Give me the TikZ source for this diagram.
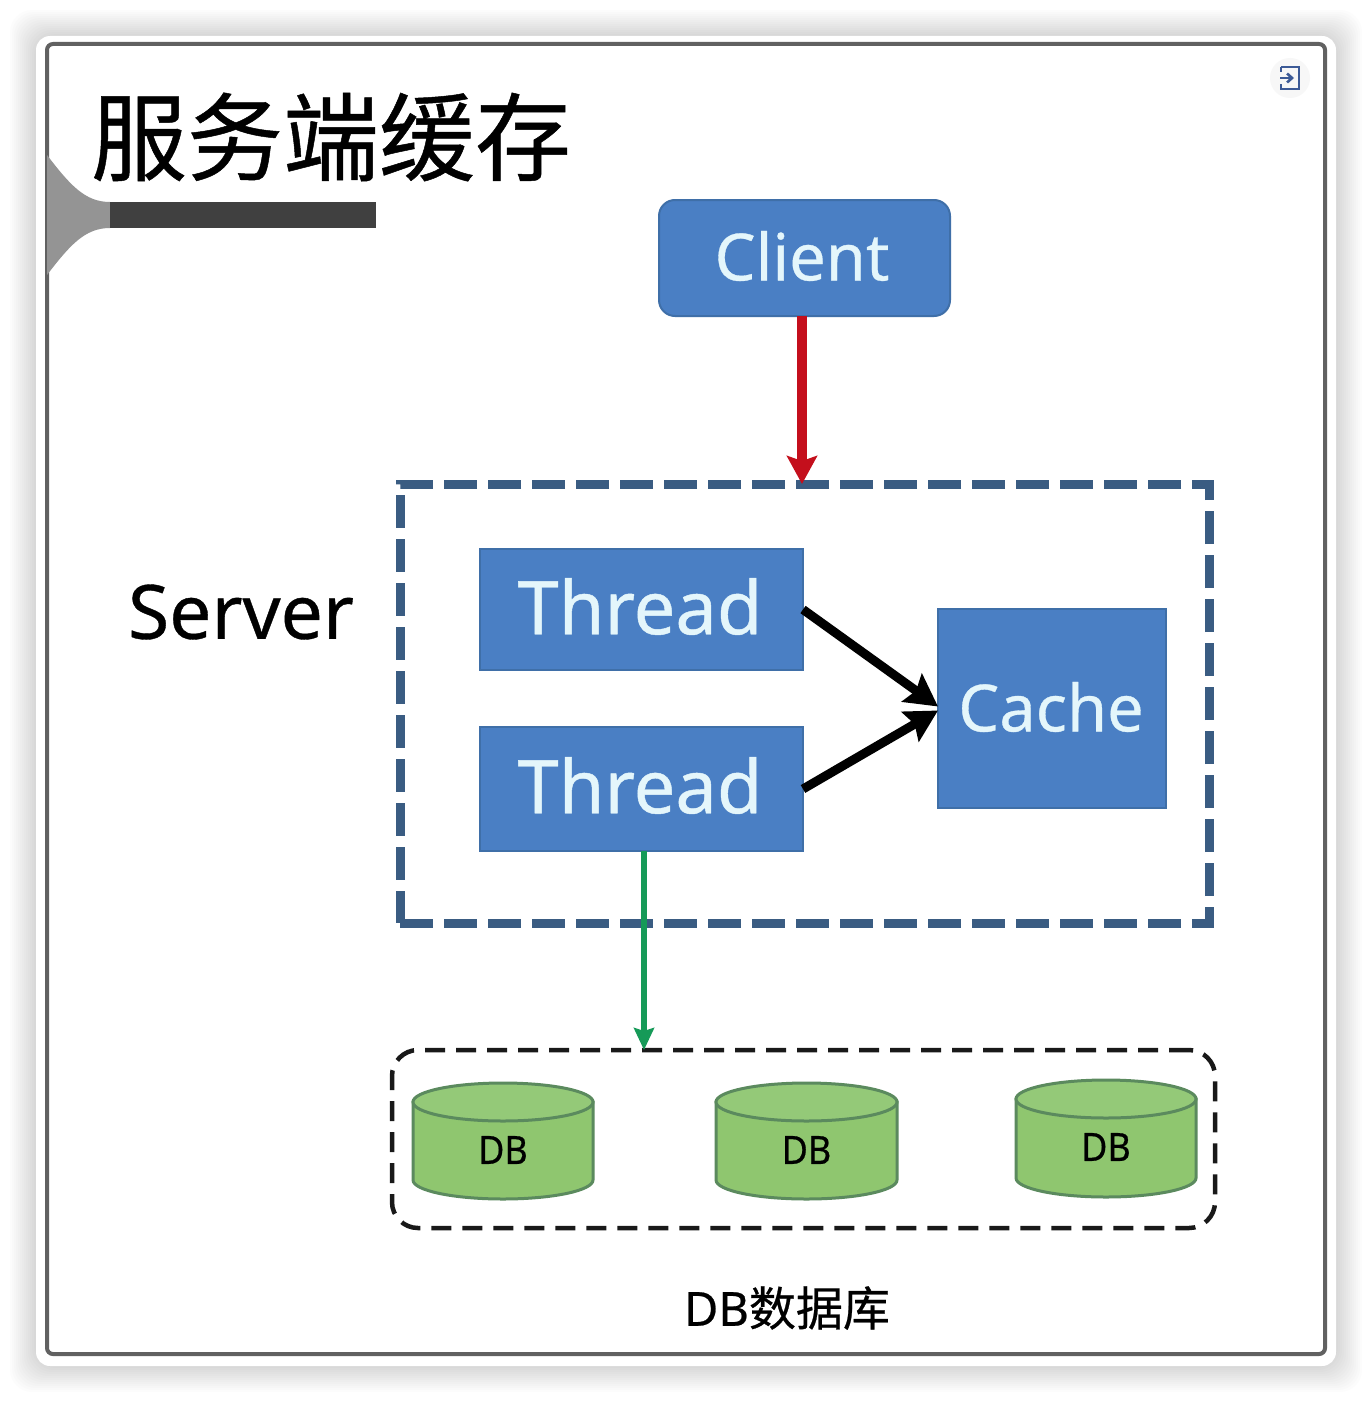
\documentclass[tikz,border=0pt]{standalone}
\usepackage{fontspec}
\setmainfont[FakeBold=0.5]{Noto Sans}
\newfontfamily\heavy[FakeBold=0.6]{Noto Sans}
\newfontfamily\cjk[FakeBold=0.5]{Noto Sans CJK SC}
\usetikzlibrary{arrows.meta,calc}
\definecolor{boxblue}{HTML}{4A7FC4}
\definecolor{boxedge}{HTML}{3F6FA8}
\definecolor{boxtext}{HTML}{E4F6FB}
\definecolor{dashblue}{HTML}{3A5C82}
\definecolor{dbgreen}{HTML}{8FC66F}
\definecolor{dbtop}{HTML}{94C978}
\definecolor{dbedge}{HTML}{5B8A5E}
\definecolor{arrowred}{HTML}{C40F1C}
\definecolor{arrowgreen}{HTML}{169A58}
\definecolor{iconblue}{HTML}{3C5A96}
\tikzset{
  x=1pt,y=-1pt,
  bluebox/.style={draw=boxedge,fill=boxblue,line width=2pt,text=boxtext,inner sep=0pt,outer sep=0pt},
  plainlabel/.style={inner sep=0pt,outer sep=0pt,text=black},
  serverbox/.style={draw=dashblue,line width=9pt,dash pattern=on 33pt off 11pt,inner sep=0pt,outer sep=0pt},
  dbbox/.style={draw=black!90,line width=4.5pt,dash pattern=on 20pt off 11pt,rounded corners=26pt,inner sep=0pt,outer sep=0pt},
  redarrow/.style={draw=arrowred,line width=10pt,-{Stealth[length=28pt,width=30pt,inset=5pt]}},
  blackarrow/.style={draw=black,line width=9pt,-{Stealth[length=32pt,width=34pt,inset=5pt]}},
  greenarrow/.style={draw=arrowgreen,line width=6pt,-{Stealth[length=22pt,width=20pt,inset=3pt]}},
  cyl/.style={fill=dbgreen,draw=dbedge,line width=3pt},
  cyltop/.style={fill=dbtop,draw=dbedge,line width=3pt},
}
\newcommand{\dbcylinder}[5]{%
  \path[cyl] (#1,{#3+19}) -- (#1,{#4-19})
     arc[start angle=180,end angle=360,x radius={(#2-#1)/2},y radius=-19]
     -- (#2,{#3+19}) -- cycle;
  \path[cyltop] ({(#1+#2)/2},{#3+19}) ellipse[x radius={(#2-#1)/2},y radius=19];
  \node[plainlabel,font=\fontsize{39}{39}\selectfont,xscale=.92] (#5) at ({(#1+#2)/2},{#3+67}) {DB};
}
\begin{document}
\begin{tikzpicture}
\useasboundingbox (0,0) rectangle (1372,1402);
\fill[white] (0,0) rectangle (1372,1402);
\foreach \s in {0,2,...,26}{
  \fill[black,opacity=.012,rounded corners=22pt] ({36-\s},{36-\s}) rectangle ({1336+\s},{1366+\s});
}
\fill[white,rounded corners=14pt] (36,36) rectangle (1336,1366);
\draw[draw=black!62,line width=4pt,rounded corners=6pt] (47,44) rectangle (1325,1354);
\fill[black!42] (47,155) .. controls (70,185) and (85,202) .. (110,202) -- (110,228)
   .. controls (85,228) and (70,245) .. (47,275) -- cycle;
\fill[black!75] (110,202) rectangle (376,228);
\node[plainlabel,font=\cjk\fontsize{96}{96}\selectfont] (title) at (331,137) {服务端缓存};
\fill[black!3] (1290,78) circle[radius=20];
\draw[iconblue,line width=2.6pt] (1281,67) -- (1299,67) -- (1299,89) -- (1281,89) -- (1281,84);
\draw[iconblue,line width=2.6pt] (1281,67) -- (1281,72);
\draw[iconblue,line width=2.6pt,-{Straight Barb[length=5pt,width=9pt]}] (1280,78) -- (1294,78);
\node[bluebox,rounded corners=16pt,minimum width=291pt,minimum height=116pt,text depth=0pt] (client) at (804.5,258) {};
\node[plainlabel,text=boxtext,font=\fontsize{65}{65}\selectfont] (clienttext) at (802,256) {Client};
\node[plainlabel,font=\fontsize{75}{75}\selectfont] (server) at (241,612) {Server};
\node[serverbox,minimum width=809pt,minimum height=439pt] (serverbox) at (804.5,703.5) {};
\node[bluebox,minimum width=323pt,minimum height=121pt] (t1) at (641.5,609.5) {};
\node[plainlabel,text=boxtext,font=\heavy\fontsize{74}{74}\selectfont] (t1text) at (640,606.5) {Thread};
\node[bluebox,minimum width=323pt,minimum height=124pt] (t2) at (641.5,789) {};
\node[plainlabel,text=boxtext,font=\heavy\fontsize{74}{74}\selectfont] (t2text) at (640,785.5) {Thread};
\node[bluebox,minimum width=228pt,minimum height=199pt] (cache) at (1052,708.5) {};
\node[plainlabel,text=boxtext,font=\fontsize{65}{65}\selectfont] (cachetext) at (1051,707) {Cache};
\node[dbbox,minimum width=823pt,minimum height=178pt] (dbbox) at (803.5,1139) {};
\dbcylinder{413}{593}{1083}{1199}{dba}
\dbcylinder{716}{897}{1083}{1199}{dbb}
\dbcylinder{1016}{1196}{1080}{1197}{dbc}
\node[plainlabel,font=\fontsize{47}{47}\selectfont] (dblabel) at (787,1308) {DB{\cjk 数据库}};
\draw[redarrow] (client.south) ++(-2.5,0) -- (serverbox.north -| 802,0);
\draw[blackarrow] (t1.east) -- ($(cache.west)+(0,-2)$);
\draw[blackarrow] (t2.east) -- ($(cache.west)+(0,2)$);
\draw[greenarrow] ($(t2.south)+(2.5,0)$) -- (dbbox.north -| 644,0);
\end{tikzpicture}
\end{document}
